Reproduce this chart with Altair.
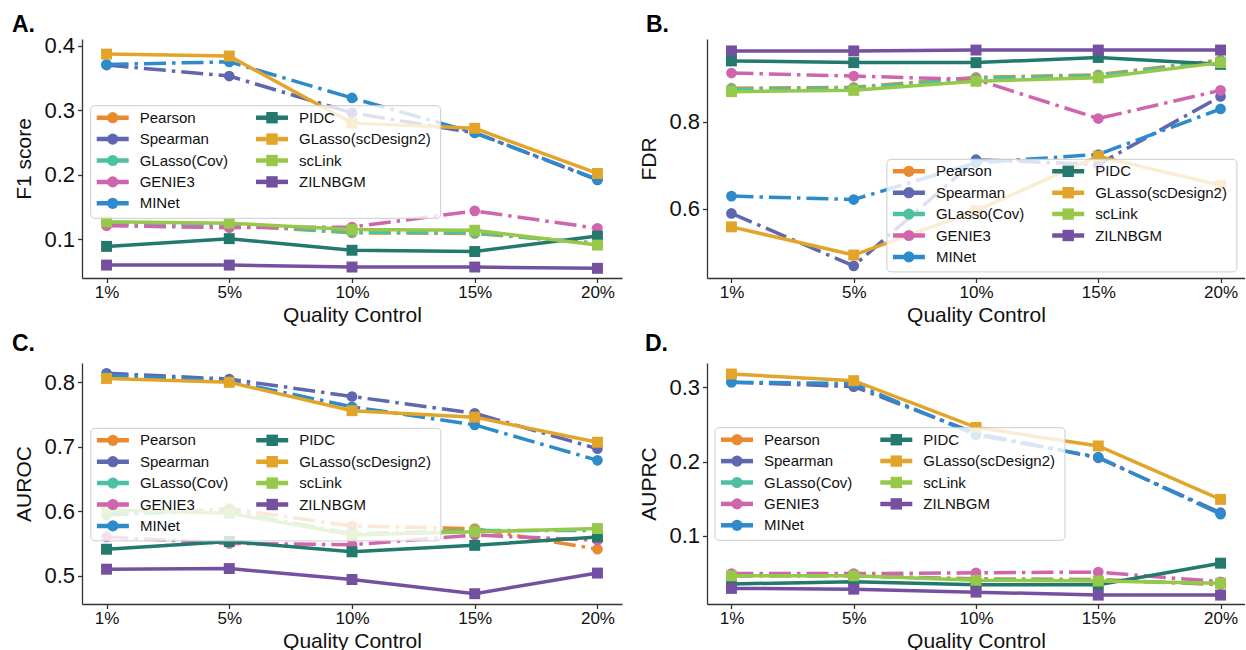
import altair as alt
import pandas as pd

QC = ["1%", "5%", "10%", "15%", "20%"]
METHODS = ["Pearson", "Spearman", "GLasso(Cov)", "GENIE3", "MINet",
           "PIDC", "GLasso(scDesign2)", "scLink", "ZILNBGM"]
COLORS = ["#EA8A2E", "#5E67B0", "#4DC0A2", "#CF65AC", "#2E8BCB",
          "#23796B", "#E2A52A", "#98C84A", "#7650A0"]
CIRCLE_METHODS = ["Pearson", "Spearman", "GLasso(Cov)", "GENIE3", "MINet"]

F1 = {
    "Pearson": [0.124, 0.122, 0.110, 0.109, 0.094],
    "Spearman": [0.370, 0.353, 0.296, 0.265, 0.192],
    "GLasso(Cov)": [0.124, 0.122, 0.111, 0.110, 0.093],
    "GENIE3": [0.121, 0.118, 0.119, 0.144, 0.117],
    "MINet": [0.371, 0.375, 0.319, 0.265, 0.193],
    "PIDC": [0.089, 0.101, 0.083, 0.081, 0.105],
    "GLasso(scDesign2)": [0.387, 0.384, 0.280, 0.272, 0.202],
    "scLink": [0.127, 0.125, 0.115, 0.114, 0.091],
    "ZILNBGM": [0.060, 0.060, 0.057, 0.057, 0.055],
}
FDR = {
    "Pearson": [0.878, 0.880, 0.903, 0.909, 0.943],
    "Spearman": [0.589, 0.468, 0.713, 0.702, 0.859],
    "GLasso(Cov)": [0.876, 0.878, 0.901, 0.907, 0.941],
    "GENIE3": [0.913, 0.906, 0.898, 0.808, 0.873],
    "MINet": [0.629, 0.621, 0.706, 0.725, 0.830],
    "PIDC": [0.941, 0.937, 0.937, 0.949, 0.933],
    "GLasso(scDesign2)": [0.558, 0.493, 0.595, 0.721, 0.654],
    "scLink": [0.870, 0.873, 0.894, 0.902, 0.937],
    "ZILNBGM": [0.964, 0.964, 0.966, 0.966, 0.966],
}
AUROC = {
    "Pearson": [0.594, 0.604, 0.577, 0.573, 0.541],
    "Spearman": [0.814, 0.805, 0.778, 0.752, 0.697],
    "GLasso(Cov)": [0.596, 0.600, 0.565, 0.570, 0.570],
    "GENIE3": [0.560, 0.550, 0.548, 0.563, 0.555],
    "MINet": [0.811, 0.802, 0.762, 0.734, 0.679],
    "PIDC": [0.541, 0.553, 0.537, 0.547, 0.560],
    "GLasso(scDesign2)": [0.806, 0.800, 0.756, 0.746, 0.707],
    "scLink": [0.602, 0.597, 0.563, 0.568, 0.573],
    "ZILNBGM": [0.510, 0.511, 0.494, 0.472, 0.504],
}
AUPRC = {
    "Pearson": [0.046, 0.046, 0.042, 0.041, 0.034],
    "Spearman": [0.307, 0.301, 0.238, 0.205, 0.131],
    "GLasso(Cov)": [0.046, 0.046, 0.041, 0.040, 0.035],
    "GENIE3": [0.049, 0.049, 0.050, 0.051, 0.038],
    "MINet": [0.307, 0.305, 0.236, 0.206, 0.129],
    "PIDC": [0.035, 0.038, 0.034, 0.034, 0.063],
    "GLasso(scDesign2)": [0.318, 0.309, 0.246, 0.221, 0.149],
    "scLink": [0.046, 0.046, 0.040, 0.039, 0.036],
    "ZILNBGM": [0.029, 0.028, 0.024, 0.020, 0.020],
}

FONT = "Liberation Sans"
COLOR_SCALE = alt.Scale(domain=METHODS, range=COLORS)


def legend_layers(bx, by):
    """Legend drawn with marks in pixel space (box, line+marker handles, labels)."""
    bw, bh = 350, 112.6
    box = pd.DataFrame([{"x": bx, "x2": bx + bw, "y": by, "y2": by + bh}])
    rows = []
    for i, m in enumerate(METHODS):
        col, row = (0, i) if i < 5 else (1, i - 5)
        sx = bx + 6 + col * 159.3
        cy = by + 12 + row * 21.4
        rows.append({"method": m, "sx": sx, "sx2": sx + 32, "cx": sx + 16, "cy": cy,
                     "tx": sx + 43, "circ": m in CIRCLE_METHODS})
    ldf = pd.DataFrame(rows)
    rect = alt.Chart(box).mark_rect(fill="white", fillOpacity=0.8, stroke="#cccccc",
                                    strokeWidth=1, cornerRadius=4).encode(
        x=alt.X("x:Q", scale=None), x2="x2:Q", y=alt.Y("y:Q", scale=None), y2="y2:Q")
    lb = alt.Chart(ldf)
    col = alt.Color("method:N", scale=COLOR_SCALE, legend=None)
    rule = lb.mark_rule(strokeWidth=4.5).encode(
        x=alt.X("sx:Q", scale=None), x2="sx2:Q", y=alt.Y("cy:Q", scale=None), color=col)
    circ = lb.transform_filter("datum.circ").mark_circle(size=125, opacity=1).encode(
        x=alt.X("cx:Q", scale=None), y=alt.Y("cy:Q", scale=None), color=col)
    sq = lb.transform_filter("!datum.circ").mark_square(size=130, opacity=1).encode(
        x=alt.X("cx:Q", scale=None), y=alt.Y("cy:Q", scale=None), color=col)
    txt = lb.mark_text(align="left", baseline="middle", fontSize=15, font=FONT,
                       color="#111111").encode(
        x=alt.X("tx:Q", scale=None), y=alt.Y("cy:Q", scale=None), text="method:N")
    return [rect, rule, circ, sq, txt]


def letter_layer(letter, dx, dy):
    d = pd.DataFrame([{"t": letter, "x": dx, "y": dy}])
    return alt.Chart(d).mark_text(align="left", baseline="alphabetic", fontSize=23,
                                  fontWeight="bold", font=FONT, color="#000000").encode(
        x=alt.X("x:Q", scale=None), y=alt.Y("y:Q", scale=None), text="t:N")


def panel(values, ytitle, letter, ydomain, yticks, w, h, tdx, toff, lx, ly):
    rows = [{"method": m, "qc": q, "value": v}
            for m in METHODS for q, v in zip(QC, values[m])]
    df = pd.DataFrame(rows)
    base = alt.Chart(df)
    x = alt.X("qc:N", sort=QC,
              scale=alt.Scale(type="point", domain=QC, padding=0.2),
              axis=alt.Axis(title="Quality Control", labelAngle=0, labelFontSize=17,
                            titleFontSize=21, labelPadding=2, titlePadding=4))
    y = alt.Y("value:Q",
              scale=alt.Scale(domain=ydomain, nice=False, zero=False),
              axis=alt.Axis(title=ytitle, values=yticks, format=".1f", labelFontSize=22,
                            titleFontSize=21, labelPadding=3, titlePadding=9))
    color = alt.Color("method:N", scale=COLOR_SCALE, legend=None)
    layers = []
    for m in METHODS:
        sub = base.transform_filter(alt.datum.method == m)
        if m in CIRCLE_METHODS:
            ln = sub.mark_line(strokeWidth=3.5, strokeDash=[22, 6, 3.5, 6])
            pt = sub.mark_circle(size=115, opacity=1)
        else:
            ln = sub.mark_line(strokeWidth=3.5)
            pt = sub.mark_square(size=120, opacity=1)
        layers.append(ln.encode(x=x, y=y, color=color))
        layers.append(pt.encode(x=x, y=y, color=color))
    layers += legend_layers(lx, ly)
    layers.append(letter_layer(letter, tdx, -toff))
    return alt.layer(*layers).properties(width=w, height=h)


A = panel(F1, "F1 score", "A.", [0.04, 0.4104], [0.1, 0.2, 0.3, 0.4], 540, 239, -70, 7, 8.7, 66.7)
B = panel(FDR, "FDR", "B.", [0.440, 0.9915], [0.6, 0.8], 538, 239, -61, 7, 179.9, 120.3)
C = panel(AUROC, "AUROC", "C.", [0.456, 0.830], [0.5, 0.6, 0.7, 0.8], 540, 241, -70, 12, 8.9, 65.3)
D = panel(AUPRC, "AUPRC", "D.", [0.008, 0.3328], [0.1, 0.2, 0.3], 538, 241, -62, 12, 8, 64.7)

chart = alt.concat(A, B, C, D, columns=2, spacing=85, bounds="flush").resolve_scale(
    x="independent", y="independent", color="independent"
).properties(
    padding={"left": 12, "top": 14, "right": 0, "bottom": 0}
).configure_view(stroke=None).configure_axis(
    grid=False, domainColor="#333333", tickColor="#333333", labelColor="#111111",
    titleColor="#111111", labelFont=FONT, titleFont=FONT, titleFontWeight="normal",
    domainWidth=1.3, tickWidth=1.3, tickSize=4.5
)

chart.save("out.html", embed_options={"renderer": "svg", "actions": False})
